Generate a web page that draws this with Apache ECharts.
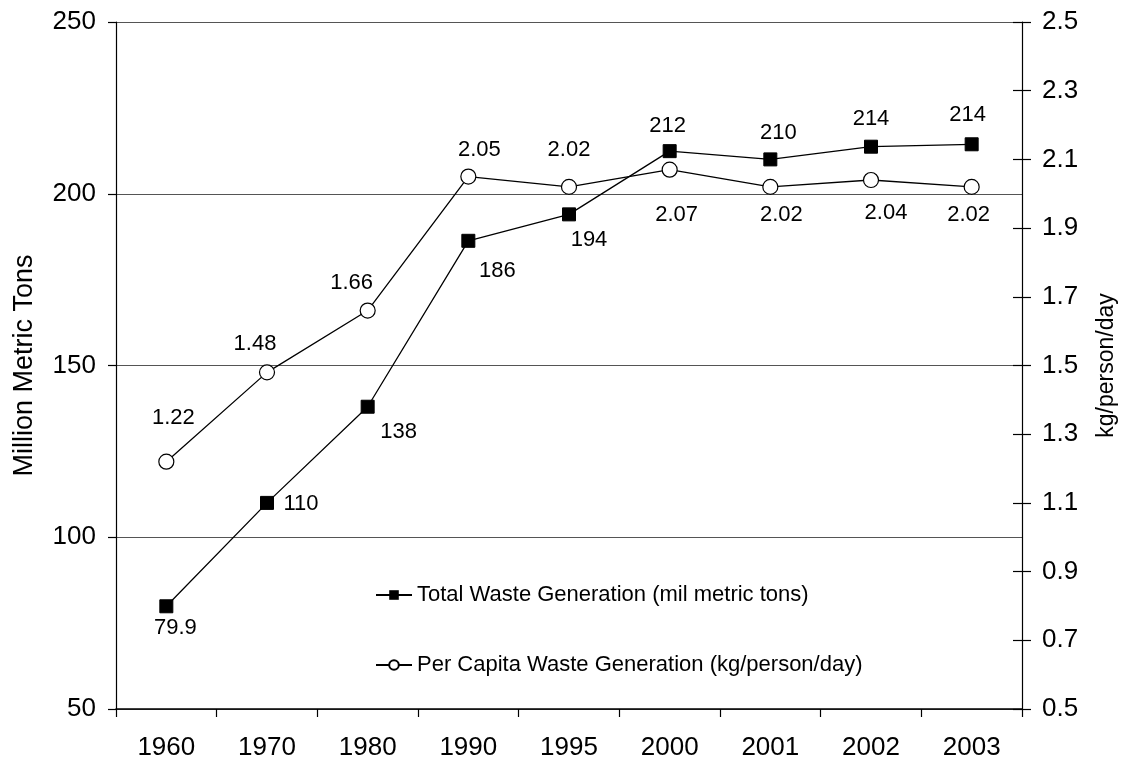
<!DOCTYPE html>
<html>
<head>
<meta charset="utf-8">
<script src="https://cdn.jsdelivr.net/npm/echarts@6/dist/echarts.min.js"></script>
<style>
html,body{margin:0;padding:0;background:#fff;}
#chart{width:1125px;height:765px;}
</style>
</head>
<body>
<div id="chart"></div>
<script>
const categories = ['1960','1970','1980','1990','1995','2000','2001','2002','2003'];
const totalWaste = [79.9, 110, 138, 186.3, 194, 212.4, 210, 213.7, 214.4];
const perCapita = [1.22, 1.48, 1.66, 2.05, 2.02, 2.07, 2.02, 2.04, 2.02];
const leftTicks = {min: 50, max: 250, interval: 50};
const rightTicks = {min: 0.5, max: 2.5, interval: 0.2};
const totalName = 'Total Waste Generation (mil metric tons)';
const perCapitaName = 'Per Capita Waste Generation (kg/person/day)';

// label placement (pixel offsets from marker centre)
const totalLabelOffsets = [[9,22],[34,1],[31,25],[29,30],[20,26],[-2,-25],[8,-26],[0,-28],[-4,-29]];
const perCapitaLabelOffsets = [[7,-44],[-12,-28],[-16,-28],[11,-27],[0,-37],[7,45],[11,28],[15,33],[-3,28]];

function hasFont(name){
  const c = document.createElement('canvas').getContext('2d');
  const t = 'Total Waste Generation (mil)';
  c.font = '40px monospace';
  const a = c.measureText(t).width;
  c.font = '40px "' + name + '", monospace';
  const b = c.measureText(t).width;
  return Math.abs(a - b) > 0.5;
}
const narrow = hasFont('Liberation Sans Narrow');
const legendFont = narrow ? {fontFamily: '"Liberation Sans Narrow"', fontSize: 27}
                          : {fontFamily: '"Liberation Sans", Arial, sans-serif', fontSize: 22};
const FONT = '"Liberation Sans", Arial, sans-serif';

const chart = echarts.init(document.getElementById('chart'), null, {renderer: 'canvas'});
chart.setOption({
  animation: false,
  backgroundColor: '#fff',
  textStyle: {fontFamily: FONT, color: '#000'},
  grid: {left: 116, right: 103, top: 22, bottom: 56, containLabel: false, outerBoundsMode: 'none'},
  legend: {
    orient: 'vertical',
    left: 370,
    top: 575,
    itemWidth: 36,
    itemHeight: 12,
    itemGap: 40,
    textStyle: Object.assign({color: '#000', lineHeight: 30}, legendFont),
    data: [totalName, perCapitaName]
  },
  xAxis: {
    type: 'category',
    data: categories,
    boundaryGap: true,
    axisLine: {lineStyle: {color: '#000', width: 1.5}},
    axisTick: {show: true, length: 8, lineStyle: {color: '#000', width: 1.2}},
    axisLabel: {fontSize: 26, color: '#000', margin: 26, fontFamily: FONT},
    splitLine: {show: false}
  },
  yAxis: [
    {
      type: 'value', position: 'left',
      min: leftTicks.min, max: leftTicks.max, interval: leftTicks.interval,
      name: 'Million Metric Tons', nameLocation: 'middle', nameGap: 78, nameRotate: 90,
      nameTextStyle: {fontSize: 27, color: '#000', fontFamily: FONT},
      axisLine: {show: true, lineStyle: {color: '#000', width: 1.2}},
      axisTick: {show: true, length: 8, lineStyle: {color: '#000', width: 1.2}},
      axisLabel: {fontSize: 26, color: '#000', margin: 20, fontFamily: FONT},
      splitLine: {show: true, lineStyle: {color: '#555', width: 1.2}}
    },
    {
      type: 'value', position: 'right',
      min: rightTicks.min, max: rightTicks.max, interval: rightTicks.interval,
      name: 'kg/person/day', nameLocation: 'middle', nameGap: 73, nameRotate: 90,
      nameTextStyle: {fontSize: 23, color: '#000', fontFamily: FONT},
      axisLine: {show: true, lineStyle: {color: '#000', width: 1.2}},
      axisTick: {show: true, length: 9, lineStyle: {color: '#000', width: 1.2}},
      axisLabel: {fontSize: 26, color: '#000', margin: 20, fontFamily: FONT,
                  formatter: v => v.toFixed(1)},
      splitLine: {show: false}
    },
    {
      type: 'value', position: 'right',
      min: rightTicks.min, max: rightTicks.max, interval: rightTicks.interval,
      axisLine: {show: false},
      axisTick: {show: true, inside: true, length: 9, lineStyle: {color: '#000', width: 1.2}},
      axisLabel: {show: false},
      splitLine: {show: false}
    }
  ],
  series: [
    {
      name: perCapitaName,
      type: 'line',
      yAxisIndex: 1,
      z: 2,
      data: perCapita.map((v, i) => ({
        value: v,
        label: {offset: perCapitaLabelOffsets[i]}
      })),
      symbol: 'circle',
      symbolSize: 15,
      lineStyle: {color: '#000', width: 1.3},
      itemStyle: {color: '#fff', borderColor: '#000', borderWidth: 1.2},
      label: {
        show: true, position: 'inside', fontSize: 22, color: '#000', fontFamily: FONT,
        formatter: p => p.value.toFixed(2)
      }
    },
    {
      name: totalName,
      type: 'line',
      yAxisIndex: 0,
      z: 3,
      data: totalWaste.map((v, i) => ({
        value: v,
        label: {offset: totalLabelOffsets[i]}
      })),
      symbol: 'rect',
      symbolSize: 13,
      lineStyle: {color: '#000', width: 1.3},
      itemStyle: {color: '#000', borderColor: '#000'},
      label: {
        show: true, position: 'inside', fontSize: 22, color: '#000', fontFamily: FONT,
        formatter: p => (p.value < 100 ? p.value.toFixed(1) : String(Math.round(p.value)))
      }
    }
  ]
});
</script>
</body>
</html>
